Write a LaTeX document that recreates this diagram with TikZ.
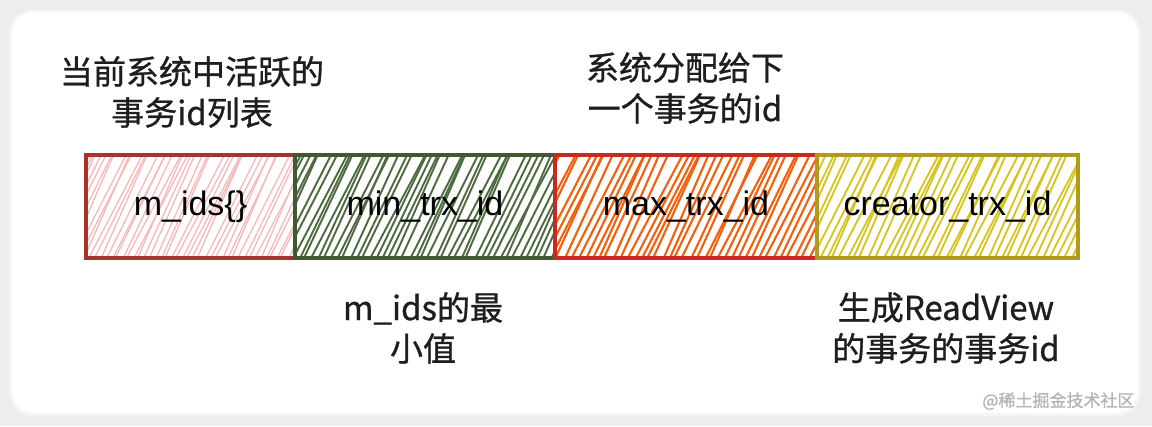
\documentclass[tikz,border=0pt]{standalone}
\usepackage{fontspec}
\setmainfont{Liberation Sans}
\newfontfamily\cjk[FakeBold=0.9]{Noto Sans CJK SC}
\usetikzlibrary{positioning,calc}
\definecolor{bggray}{HTML}{EDEDED}
\definecolor{redline}{HTML}{A5352C}
\definecolor{redhatch}{HTML}{F6B8B8}
\definecolor{greenline}{HTML}{3F5A33}
\definecolor{greenhatch}{HTML}{4E6B40}
\definecolor{orangeline}{HTML}{C9291E}
\definecolor{orangehatch}{HTML}{F2600E}
\definecolor{yellowline}{HTML}{B09B1C}
\definecolor{yellowhatch}{HTML}{D6C41C}
\definecolor{inkgray}{HTML}{1E1E1E}
\definecolor{wmgray}{HTML}{B5B5B5}
\tikzset{
cell/.style={draw=#1, line width=3.8pt, minimum height=103, inner sep=0pt,
  outer sep=0pt, font=\fontsize{34}{34}\selectfont},
hatch/.style n args={3}{path picture={
  \foreach \k in {0,...,70}
    \draw[#1, line width=#3, line cap=round]
      ($(path picture bounding box.south west)+({\k*#2-70+rand*2},4)$)
      -- ++({54+rand*6},-112);
}},
note/.style={align=center, text=inkgray, font=\cjk\fontsize{33}{41}\selectfont},
watermark/.style={text=wmgray, font=\cjk\fontsize{17}{17}\selectfont},
}
\begin{document}
\begin{tikzpicture}[x=1pt,y=-1pt]
\pgfmathsetseed{11}
\useasboundingbox (0,0) rectangle (1152,426);
\fill[bggray] (0,0) rectangle (1152,426);
\fill[black!4, rounded corners=24] (9,10) rectangle (1141,416);
\fill[white, rounded corners=22] (12,12) rectangle (1138,413);

\node[cell=redline, hatch={redhatch}{5.5}{1.3pt}, minimum width=209]
  (mids) at (190.5,206.5) {m\_ids\{\}};
\node[cell=greenline, hatch={greenhatch}{6.5}{1.9pt}, minimum width=260,
  right=0pt of mids] (mintrx) {min\_trx\_id};
\node[cell=orangeline, hatch={orangehatch}{7}{2.1pt}, minimum width=262,
  right=0pt of mintrx] (maxtrx) {max\_trx\_id};
\node[cell=yellowline, hatch={yellowhatch}{7}{1.8pt}, minimum width=261,
  right=0pt of maxtrx] (creatortrx) {creator\_trx\_id};

\node[note] (activenote) at (192,92) {当前系统中活跃的\\事务id列表};
\node[note] (nextnote) at (685,88) {系统分配给下\\一个事务的id};
\node[note] (minnote) at (423,328) {m\_ids的最\\小值};
\node[note] (creatornote) at (946,328) {生成ReadView\\的事务的事务id};

\node[watermark, anchor=east] (wm) at (1138,401) {@稀土掘金技术社区};
\end{tikzpicture}
\end{document}
